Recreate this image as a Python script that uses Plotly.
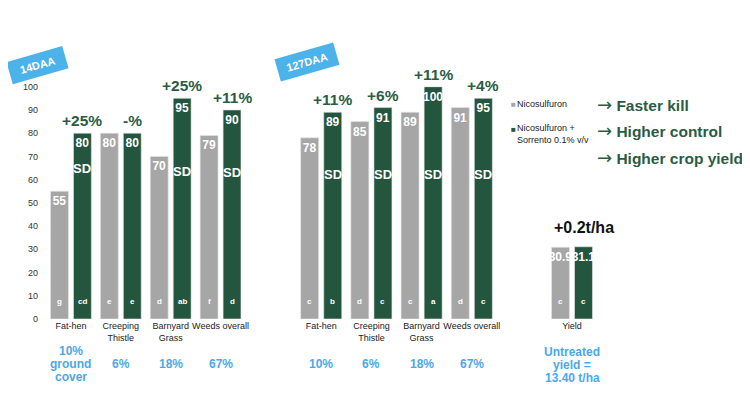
import plotly.graph_objects as go

# ---------------- data ----------------
cats = ["Fat-hen", "Creeping<br>Thistle", "Barnyard<br>Grass", "Weeds overall"]
daa14_nico = [55, 80, 70, 79]
daa14_sorr = [80, 80, 95, 90]
daa14_nico_let = ["g", "e", "d", "f"]
daa14_sorr_let = ["cd", "e", "ab", "d"]
daa14_change = ["+25%", "-%", "+25%", "+11%"]
daa14_sd = ["SD", "", "SD", "SD"]

daa127_nico = [78, 85, 89, 91]
daa127_sorr = [89, 91, 100, 95]
daa127_nico_let = ["c", "d", "c", "d"]
daa127_sorr_let = ["b", "c", "a", "c"]
daa127_change = ["+11%", "+6%", "+11%", "+4%"]
daa127_sd = ["SD", "SD", "SD", "SD"]

yield_cat = ["Yield"]
yield_nico = [30.9]
yield_sorr = [31.1]
yield_nico_let = ["c"]
yield_sorr_let = ["c"]
yield_change = "+0.2t/ha"

cover_14 = [["10%", "ground", "cover"], ["6%"], ["18%"], ["67%"]]
cover_127 = [["10%"], ["6%"], ["18%"], ["67%"]]
untreated = ["Untreated", "yield =", "13.40 t/ha"]

series_names = ["Nicosulfuron", "Nicosulfuron +<br>Sorrento 0.1% v/v"]
claims = ["Faster kill", "Higher control", "Higher crop yield"]

# ---------------- style ----------------
GRAY = "#a6a6a6"
GREEN = "#24553f"
TXT_GREEN = "#2a5c45"
BLUE = "#4aa8ec"
BADGE = "#4cb2ea"
FONT = "Liberation Sans, Arial, Helvetica, sans-serif"
PAGE_OFF = 8            # default body margin of the html page
W, H = 750 - PAGE_OFF, 398 - PAGE_OFF

def px(xp):
    return (xp - PAGE_OFF) / W

def py(yp):
    return (H - (yp - PAGE_OFF)) / H

fig = go.Figure()

def add_pair(xaxis, x, a, b):
    for vals, col in ((a, GRAY), (b, GREEN)):
        fig.add_trace(go.Bar(
            x=x, y=vals, xaxis=xaxis, yaxis="y",
            marker=dict(color=col, line=dict(width=0.6, color="#e6e6e6")),
            text=[f"{v:g}" for v in vals], textposition="inside",
            insidetextanchor="end", textangle=0, constraintext="none",
            textfont=dict(color="white", size=12, family=FONT, weight="bold"),
            cliponaxis=False, showlegend=False, hoverinfo="skip"))

add_pair("x", cats, daa14_nico, daa14_sorr)
add_pair("x2", cats, daa127_nico, daa127_sorr)
add_pair("x3", yield_cat, yield_nico, yield_sorr)

ann = []
OFF = 0.23  # half-slot offset of each bar within a group

def letters(xref, lets, side):
    for i, l in enumerate(lets):
        ann.append(dict(xref=xref, yref="y", x=i + side * OFF, y=7.5, text=l,
                        showarrow=False, yanchor="middle",
                        font=dict(color="white", size=8, family=FONT, weight="bold")))

def sds(xref, sd, side, ys):
    for i, s in enumerate(sd):
        if s:
            ann.append(dict(xref=xref, yref="y", x=i + side * OFF, y=ys[i], text=s,
                            showarrow=False, yanchor="middle",
                            font=dict(color="white", size=13, family=FONT, weight="bold")))

def changes(xref, vals, ch, color=TXT_GREEN, shift=2, size=15.5):
    for i, (v, c) in enumerate(zip(vals, ch)):
        ann.append(dict(xref=xref, yref="y", x=i + OFF, y=v, text=c, yanchor="bottom",
                        yshift=shift, showarrow=False,
                        font=dict(color=color, size=size, family=FONT, weight="bold")))

letters("x", daa14_nico_let, -1)
letters("x", daa14_sorr_let, 1)
letters("x2", daa127_nico_let, -1)
letters("x2", daa127_sorr_let, 1)
letters("x3", yield_nico_let, -1)
letters("x3", yield_sorr_let, 1)

sds("x", daa14_sd, 1, [65, 0, 63.5, 63])
sds("x2", daa127_sd, 1, [62, 62, 62, 62])

changes("x", daa14_sorr, daa14_change)
changes("x2", daa127_sorr, daa127_change)
changes("x3", yield_sorr, [yield_change], color="#111111", shift=9, size=16)

# ground cover labels (each line placed separately for tight leading)
LEAD = 13.3
def stacked(xref, x, lines, center):
    n = len(lines)
    for k, ln in enumerate(lines):
        yp = center + (k - (n - 1) / 2) * LEAD
        ann.append(dict(xref=xref, yref="paper", x=x, y=py(yp), text=ln, showarrow=False,
                        yanchor="middle",
                        font=dict(color=BLUE, size=12, family=FONT, weight="bold")))

for xr, labels in (("x", cover_14), ("x2", cover_127)):
    for i, lines in enumerate(labels):
        stacked(xr, i, lines, 364)
stacked("x3", 0, untreated, 365)

# badges
for t, xp, yp in (("14DAA", 38, 65), ("127DAA", 307, 62)):
    ann.append(dict(xref="paper", yref="paper", x=px(xp), y=py(yp), text=t, showarrow=False,
                    xanchor="center", yanchor="middle",
                    textangle=-16, bgcolor=BADGE, width=58 if t == "127DAA" else 55, height=20,
                    font=dict(color="white", size=11, family=FONT, weight="bold")))

# legend
for (name, col, sq_y, yp) in ((series_names[0], GRAY, 104, 104),
                              (series_names[1], GREEN, 129, 134.5)):
    ann.append(dict(xref="paper", yref="paper", x=px(509), y=py(sq_y), text="■",
                    showarrow=False, xanchor="left", yanchor="middle",
                    font=dict(color=col, size=8, family=FONT)))
    ann.append(dict(xref="paper", yref="paper", x=px(515), y=py(yp), text=name,
                    showarrow=False, xanchor="left", yanchor="middle", align="left",
                    font=dict(color="#222222", size=9, family=FONT)))

for t, yp in zip(claims, (104, 130, 157)):
    ann.append(dict(xref="paper", yref="paper", x=px(595), y=py(yp),
                    text='<span style="font-family:DejaVu Sans;font-weight:normal;font-size:18px">→</span> ' + t,
                    showarrow=False, xanchor="left", yanchor="middle",
                    font=dict(color=TXT_GREEN, size=15.5, family=FONT, weight="bold")))

ydom = [py(319), py(86.7)]
xax = dict(showline=False, ticks="", showgrid=False, zeroline=False, fixedrange=True,
           tickangle=0, automargin=False,
           tickfont=dict(size=9, color="#222222", family=FONT))

fig.update_layout(
    width=W, height=H, autosize=False,
    margin=dict(l=0, r=0, t=0, b=0),
    paper_bgcolor="white", plot_bgcolor="white",
    barmode="group", bargap=0.08, bargroupgap=0.22,
    font=dict(family=FONT),
    xaxis=dict(domain=[px(46), px(245.5)], anchor="y", range=[-0.5, 3.5], **xax),
    xaxis2=dict(domain=[px(296.1), px(496.9)], anchor="y", range=[-0.5, 3.5], **xax),
    xaxis3=dict(domain=[px(547), px(597)], anchor="y", range=[-0.5, 0.5], **xax),
    yaxis=dict(domain=ydom, range=[0, 100], tickvals=list(range(0, 101, 10)),
               showgrid=False, zeroline=False, showline=False, ticks="",
               ticklabelstandoff=7, automargin=False,
               tickfont=dict(size=9, color="#333333", family=FONT)),
    annotations=ann,
    showlegend=False,
)

fig.write_html("out.html")
